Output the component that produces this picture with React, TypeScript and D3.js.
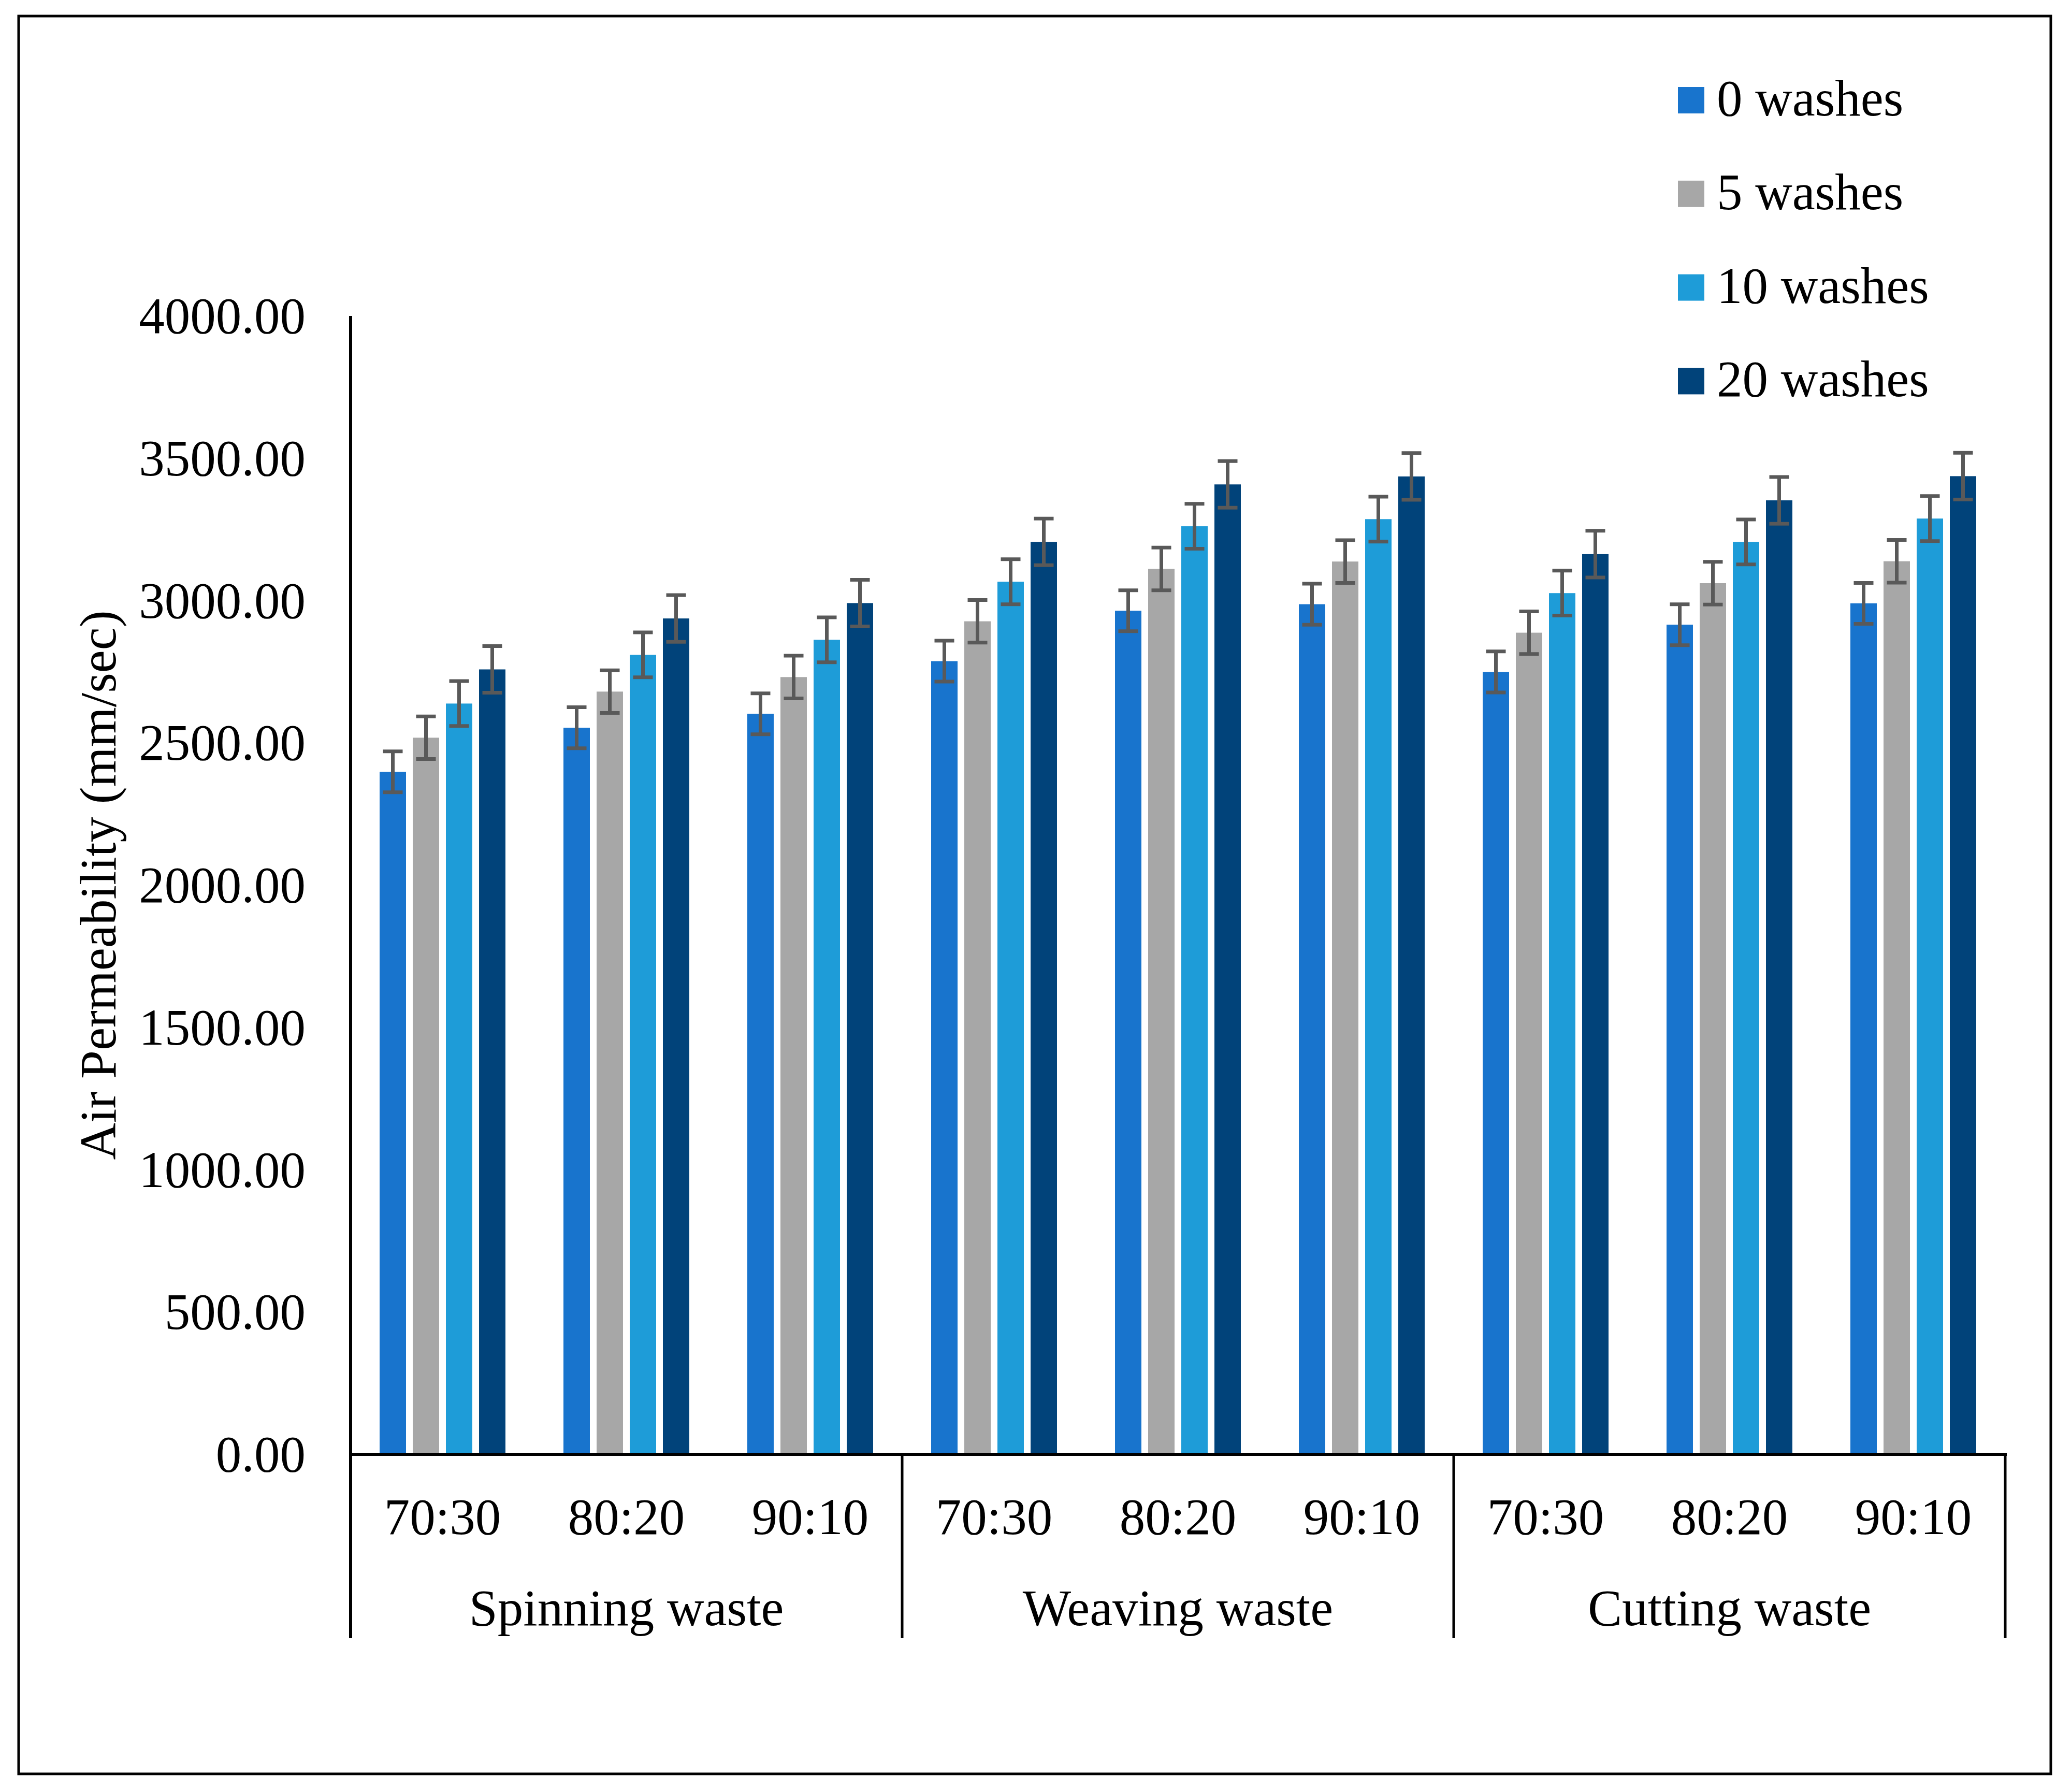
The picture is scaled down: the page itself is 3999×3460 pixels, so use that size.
import React from "react";
import * as d3 from "d3";

const groups = ["Spinning waste", "Weaving waste", "Cutting waste"];
const ratios = ["70:30", "80:20", "90:10"];
const seriesNames = ["0 washes", "5 washes", "10 washes", "20 washes"];
const seriesColors = ["#1874CD", "#A7A7A7", "#1E9CD8", "#01437A"];

// values per category (Spinning 70:30 ... Cutting 90:10), one array per series
const washes0 = [2398, 2553, 2602, 2787, 2964, 2987, 2749, 2915, 2990];
const washes5 = [2518, 2680, 2731, 2927, 3111, 3137, 2887, 3061, 3138];
const washes10 = [2638, 2809, 2862, 3066, 3261, 3286, 3026, 3206, 3288];
const washes20 = [2758, 2937, 2991, 3206, 3408, 3436, 3163, 3352, 3437];
const seriesErrors = [72, 75, 79, 82];

const yTicks = [0, 500, 1000, 1500, 2000, 2500, 3000, 3500, 4000];

const W = 3999;
const H = 3460;
const FONT = "'Liberation Serif', 'Times New Roman', serif";

export default function App() {
  const seriesValues = [washes0, washes5, washes10, washes20];
  const categories = groups.flatMap((g) => ratios.map((r) => `${g}|${r}`));

  const left = 677;
  const right = 3872;
  const top = 610;
  const bottom = 2808;

  const y = d3.scaleLinear().domain([0, 4000]).range([bottom, top]);
  const xCat = d3.scaleBand<string>().domain(categories).range([left, right]).padding(0);
  const groupWidth = 243;
  const xInner = d3
    .scaleBand<number>()
    .domain([0, 1, 2, 3])
    .range([0, groupWidth])
    .paddingInner(13 / 64)
    .paddingOuter(0);
  const bw = xInner.bandwidth();
  const groupBand = xCat.bandwidth() * ratios.length;

  const bars: React.ReactNode[] = [];
  const errs: React.ReactNode[] = [];
  categories.forEach((c, ci) => {
    const cx0 = (xCat(c) as number) + (xCat.bandwidth() - groupWidth) / 2;
    seriesValues.forEach((vals, si) => {
      const v = vals[ci];
      const x = cx0 + (xInner(si) as number);
      bars.push(
        <rect key={`b${ci}-${si}`} x={x} y={y(v)} width={bw} height={bottom - y(v)} fill={seriesColors[si]} />
      );
      const e = seriesErrors[si];
      const mx = x + bw / 2;
      errs.push(
        <g key={`e${ci}-${si}`} stroke="#595959" strokeWidth={7}>
          <line x1={mx} x2={mx} y1={y(v + e)} y2={y(v - e)} />
          <line x1={mx - 19} x2={mx + 19} y1={y(v + e)} y2={y(v + e)} />
          <line x1={mx - 19} x2={mx + 19} y1={y(v - e)} y2={y(v - e)} />
        </g>
      );
    });
  });

  const dividerXs = [0, 1, 2, 3].map((i) => left + i * groupBand);

  return (
    <svg
      width={W}
      height={H}
      style={{ position: "absolute", left: 0, top: 0, background: "#fff" }}
      fontFamily={FONT}
    >
      <rect x={0} y={0} width={W} height={H} fill="#fff" />
      <rect x={36} y={31} width={3924} height={3394} fill="none" stroke="#000" strokeWidth={5} />

      {yTicks.map((t) => (
        <text key={t} x={590} y={y(t) + 33} textAnchor="end" fontSize={99} fill="#000">
          {t.toFixed(2)}
        </text>
      ))}

      <text
        transform={`translate(223,${(top + bottom) / 2}) rotate(-90)`}
        textAnchor="middle"
        fontSize={99}
        fill="#000"
      >
        Air Permeability (mm/sec)
      </text>

      {bars}
      {errs}

      <line x1={left} x2={left} y1={top} y2={3163} stroke="#000" strokeWidth={6} />
      <line x1={left - 3} x2={right + 3} y1={bottom} y2={bottom} stroke="#000" strokeWidth={6} />
      {dividerXs.slice(1).map((dx, i) => (
        <line key={i} x1={dx} x2={dx} y1={bottom} y2={3163} stroke="#000" strokeWidth={5} />
      ))}

      {categories.map((c, ci) => (
        <text
          key={c}
          x={(xCat(c) as number) + xCat.bandwidth() / 2}
          y={2962}
          textAnchor="middle"
          fontSize={99}
          fill="#000"
        >
          {ratios[ci % 3]}
        </text>
      ))}
      {groups.map((g, gi) => (
        <text key={g} x={left + gi * groupBand + groupBand / 2} y={3138} textAnchor="middle" fontSize={99} fill="#000">
          {g}
        </text>
      ))}

      {seriesNames.map((s, si) => (
        <g key={s} transform={`translate(3240,${168 + si * 180.8})`}>
          <rect x={0} y={0} width={51} height={51} fill={seriesColors[si]} />
          <text x={75} y={55} fontSize={99} fill="#000">
            {s}
          </text>
        </g>
      ))}
    </svg>
  );
}
